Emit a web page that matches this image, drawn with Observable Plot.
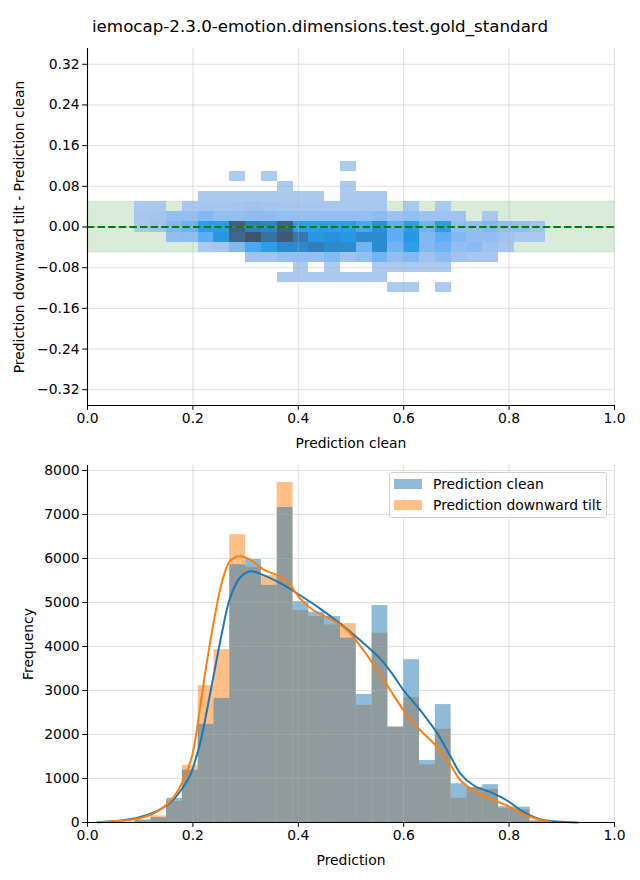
<!DOCTYPE html>
<html>
<head>
<meta charset="utf-8">
<script src="https://cdn.jsdelivr.net/npm/d3@7"></script>
<script src="https://cdn.jsdelivr.net/npm/@observablehq/plot@0.6"></script>
<style>
  body { margin: 0; background: #fff; font-family: "DejaVu Sans", sans-serif; }
  #fig { position: relative; width: 640px; height: 880px; overflow: hidden; background: #fff; }
  #title { position: absolute; top: 15px; left: 0; width: 640px; text-align: center; font-size: 16.7px; line-height: 22px; color: #000; }
  #p1 { position: absolute; top: 40px; left: 0; }
  #p2 { position: absolute; top: 455px; left: 0; }
  #legend { position: absolute; left: 389px; top: 472px; width: 216px; height: 44px; border: 1px solid #d0d0d0; border-radius: 3px; background: rgba(255,255,255,0.8); font-size: 13.9px; color: #000; }
  .lg-row { position: absolute; left: 4px; height: 14px; display: flex; align-items: center; white-space: nowrap; }
  .lg-sw { width: 28px; height: 10px; margin-right: 11px; }
</style>
</head>
<body>
<div id="fig">
  <div id="title">iemocap-2.3.0-emotion.dimensions.test.gold_standard</div>
  <div id="p1"></div>
  <div id="p2"></div>
  <div id="legend"></div>
</div>
<script>
// ---------------- data ----------------
const binEdges = [0.09, 0.12, 0.15, 0.18, 0.21, 0.24, 0.27, 0.30, 0.33, 0.36, 0.39, 0.42, 0.45,
  0.48, 0.51, 0.54, 0.57, 0.60, 0.63, 0.66, 0.69, 0.72, 0.75, 0.78, 0.81, 0.84, 0.87];
const diffEdges = [-0.1296, -0.1097, -0.0897, -0.0698, -0.0498, -0.0299, -0.0099, 0.0100,
  0.0300, 0.0499, 0.0699, 0.0898, 0.1098, 0.1297];
// counts per (difference bin, prediction bin); row 0 = lowest difference bin
const heatRows = [
  [0,0,0,0,0,0,0,0,0,0,0,0,0,0,0,0,10,10,0,10,0,0,0,0,0,0],
  [0,0,0,0,0,0,0,0,0,10,10,10,10,10,10,10,0,0,0,0,0,0,0,0,0,0],
  [0,0,0,0,0,0,0,0,0,0,10,0,10,0,0,10,10,10,10,10,0,0,0,0,0,0],
  [0,0,0,0,0,0,0,100,100,200,200,200,300,100,200,400,200,300,100,240,100,60,60,0,0,0],
  [0,0,0,0,20,60,300,600,800,1100,1100,1300,1100,1100,400,1100,400,800,300,400,200,260,140,60,0,0],
  [0,0,200,220,500,900,1700,2000,1500,1900,1400,900,1000,900,1100,1100,500,900,300,500,300,200,200,100,20,20],
  [30,100,300,420,800,820,1800,1300,1200,1800,800,800,800,800,600,1000,500,800,400,820,200,200,300,200,200,100],
  [60,80,200,200,300,200,200,220,220,200,180,200,200,200,180,250,120,200,120,120,100,0,30,0,0,0],
  [20,20,0,40,60,60,80,100,80,60,60,60,40,40,40,40,0,30,0,30,0,0,0,0,0,0],
  [0,0,0,0,10,10,10,10,10,10,10,10,0,10,10,10,0,0,0,0,0,0,0,0,0,0],
  [0,0,0,0,0,0,0,0,0,10,0,0,0,10,0,0,0,0,0,0,0,0,0,0,0,0],
  [0,0,0,0,0,0,10,0,10,0,0,0,0,0,0,0,0,0,0,0,0,0,0,0,0,0],
  [0,0,0,0,0,0,0,0,0,0,0,0,0,10,0,0,0,0,0,0,0,0,0,0,0,0]
];
const toleranceBand = [-0.05, 0.05];

const histClean = [60, 110, 550, 1190, 2230, 2820, 5860, 5980, 5390, 7160, 5020, 4780, 4680,
  4190, 2910, 4930, 2160, 3700, 1410, 2680, 880, 790, 860, 360, 350, 30];
const histTilt = [40, 150, 480, 1300, 3110, 3930, 6540, 5800, 5610, 7730, 4820, 4680, 4490,
  4520, 2660, 4300, 2180, 2840, 1310, 2120, 550, 800, 750, 320, 290, 50];

const kdeCleanX = [0.02, 0.063, 0.095, 0.127, 0.158, 0.177, 0.196, 0.208, 0.215, 0.240, 0.256, 0.271,
  0.290, 0.309, 0.328, 0.366, 0.404, 0.442, 0.480, 0.518, 0.556, 0.580, 0.600, 0.632, 0.664, 0.689,
  0.708, 0.733, 0.765, 0.796, 0.828, 0.860, 0.891, 0.93];
const kdeCleanY = [5, 45, 106, 235, 462, 727, 1106, 1560, 1864, 3380, 4364, 5121,
  5575, 5712, 5652, 5439, 5159, 4856, 4515, 4136, 3720, 3350, 3000, 2545, 2020, 1500,
  1106, 841, 689, 500, 235, 68, 23, 2];
const kdeTiltX = [0.019, 0.095, 0.127, 0.158, 0.177, 0.196, 0.202, 0.224, 0.240, 0.256, 0.271,
  0.290, 0.309, 0.335, 0.366, 0.385, 0.404, 0.429, 0.461, 0.493, 0.524, 0.556, 0.569, 0.600, 0.632,
  0.664, 0.689, 0.708, 0.733, 0.765, 0.796, 0.828, 0.860, 0.88];
const kdeTiltY = [5, 85, 212, 500, 841, 1409, 1712, 3455, 4590, 5500, 5955,
  6053, 5970, 5742, 5590, 5386, 5083, 4818, 4629, 4364, 3909, 3340, 3114, 2545, 2090,
  1712, 1300, 955, 720, 538, 386, 182, 60, 10];

const xTicks = [0, 0.2, 0.4, 0.6, 0.8, 1.0];
const diffTicks = [-0.32, -0.24, -0.16, -0.08, 0, 0.08, 0.16, 0.24, 0.32];
const freqTicks = [0, 1000, 2000, 3000, 4000, 5000, 6000, 7000, 8000];

const seriesNames = ["Prediction clean", "Prediction downward tilt"];
const seriesColors = ["#1f77b4", "#ff7f0e"];

// ---------------- seaborn-like single-hue colormap (HUSL ramp) ----------------
const HM = [[3.240969941904521, -1.537383177570093, -0.498610760293],
  [-0.96924363628087, 1.87596750150772, 0.041555057407175],
  [0.055630079696993, -0.20397695888897, 1.056971514242878]];
const HMinv = [[0.41239079926595, 0.35758433938387, 0.18048078840183],
  [0.21263900587151, 0.71516867876775, 0.072192315360733],
  [0.019330818715591, 0.11919477979462, 0.95053215224966]];
const refU = 0.19783000664283, refV = 0.46831999493879, kappa = 903.2962962, epsilon = 0.0088564516;
function bounds(L) {
  const out = [];
  const sub1 = Math.pow(L + 16, 3) / 1560896;
  const sub2 = sub1 > epsilon ? sub1 : L / kappa;
  for (const [m1, m2, m3] of HM) {
    for (const t of [0, 1]) {
      const top1 = (284517 * m1 - 94839 * m3) * sub2;
      const top2 = (838422 * m3 + 769860 * m2 + 731718 * m1) * L * sub2 - 769860 * t * L;
      const bottom = (632260 * m3 - 126452 * m2) * sub2 + 126452 * t;
      out.push([top1 / bottom, top2 / bottom]);
    }
  }
  return out;
}
function maxChroma(L, H) {
  const hr = H / 180 * Math.PI;
  let min = Infinity;
  for (const [m, b] of bounds(L)) {
    const len = b / (Math.sin(hr) - m * Math.cos(hr));
    if (len >= 0 && len < min) min = len;
  }
  return min;
}
function hsluvToRgb(H, S, L) {
  const C = maxChroma(L, H) / 100 * S;
  const hr = H / 180 * Math.PI;
  const U = Math.cos(hr) * C, V = Math.sin(hr) * C;
  const vu = U / (13 * L) + refU, vv = V / (13 * L) + refV;
  const Y = L <= 8 ? L / kappa : Math.pow((L + 16) / 116, 3);
  const X = -(9 * Y * vu) / ((vu - 4) * vv - vu * vv);
  const Z = (9 * Y - 15 * vv * Y - vv * X) / (3 * vv);
  return HM.map(([a, b, c]) => {
    const v = a * X + b * Y + c * Z;
    const g = v <= 0.0031308 ? 12.92 * v : 1.055 * Math.pow(v, 1 / 2.4) - 0.055;
    return Math.max(0, Math.min(1, g));
  });
}
function rgbToHsluv(r, g, b) {
  const lin = c => c > 0.04045 ? Math.pow((c + 0.055) / 1.055, 2.4) : c / 12.92;
  const rl = [r, g, b].map(lin);
  const [X, Y, Z] = HMinv.map(([a, b2, c]) => a * rl[0] + b2 * rl[1] + c * rl[2]);
  const L = Y <= epsilon ? Y * kappa : 116 * Math.cbrt(Y) - 16;
  const d = X + 15 * Y + 3 * Z;
  const U = 13 * L * (4 * X / d - refU), V = 13 * L * (9 * Y / d - refV);
  const C = Math.hypot(U, V);
  let H = Math.atan2(V, U) * 180 / Math.PI; if (H < 0) H += 360;
  return [H, C / maxChroma(L, H) * 100, L];
}
const base = d3.rgb(seriesColors[0]);
const [baseH, baseS] = rgbToHsluv(base.r / 255, base.g / 255, base.b / 255);
function ramp(t) {
  const k = 255 * (1 - t);
  const xx = -1 + 2 * k / 293;
  const L = 35 + 45 * k / 255;
  const [r, g, b] = hsluvToRgb(baseH, baseS * Math.cos(xx), L);
  return `rgb(${Math.round(r * 255)},${Math.round(g * 255)},${Math.round(b * 255)})`;
}

// ---------------- tables ----------------
const heatCells = [];
heatRows.forEach((row, j) => row.forEach((c, i) => {
  if (c > 0) heatCells.push({x1: binEdges[i], x2: binEdges[i + 1], y1: diffEdges[j], y2: diffEdges[j + 1], count: c});
}));
const counts = heatCells.map(d => d.count);
const histTable = histClean.map((c, i) => ({x1: binEdges[i], x2: binEdges[i + 1], clean: c, tilt: histTilt[i]}));
const kdeClean = kdeCleanX.map((x, i) => ({x, y: kdeCleanY[i]}));
const kdeTilt = kdeTiltX.map((x, i) => ({x, y: kdeTiltY[i]}));

const font = {fontFamily: "DejaVu Sans", fontSize: "13.9px", background: "white", color: "black", overflow: "visible"};
const gridStyle = {stroke: "#b0b0b0", strokeOpacity: 0.5, strokeWidth: 0.8};

// ---------------- top: 2D histogram ----------------
const p1 = Plot.plot({
  width: 640, height: 415,
  marginLeft: 87, marginRight: 26, marginTop: 8, marginBottom: 50,
  style: font,
  x: {domain: [0, 1]},
  y: {domain: [-0.351, 0.351]},
  color: {type: "linear", domain: [d3.min(counts), d3.max(counts)], interpolate: ramp},
  marks: [
    Plot.rect([toleranceBand], {y1: d => d[0], y2: d => d[1], fill: "green", fillOpacity: 0.15, stroke: "green", strokeOpacity: 0.12, strokeWidth: 1}),
    Plot.rect(heatCells, {x1: "x1", x2: "x2", y1: "y1", y2: "y2", fill: "count", inset: 0, shapeRendering: "crispEdges"}),
    Plot.gridX(xTicks, gridStyle),
    Plot.gridY(diffTicks, gridStyle),
    Plot.ruleY([0], {stroke: "green", strokeWidth: 2, strokeDasharray: "7.4,3.2"}),
    Plot.ruleX([0], {stroke: "black", strokeWidth: 1.1}),
    Plot.ruleY([-0.351], {stroke: "black", strokeWidth: 1.1}),
    Plot.axisX(xTicks, {tickFormat: d3.format(".1f"), tickSize: 4.9, tickPadding: 3, label: "Prediction clean", labelAnchor: "center", labelArrow: "none", labelOffset: 42}),
    Plot.axisY(diffTicks, {tickFormat: d3.format(".2f"), tickSize: 4.9, tickPadding: 3, label: "Prediction downward tilt - Prediction clean", labelAnchor: "center", labelArrow: "none", labelOffset: 73})
  ]
});
document.getElementById("p1").appendChild(p1);

// ---------------- bottom: histograms + KDE ----------------
const p2 = Plot.plot({
  width: 640, height: 425,
  marginLeft: 87, marginRight: 26, marginTop: 10, marginBottom: 58,
  style: font,
  x: {domain: [0, 1]},
  y: {domain: [0, 8114]},
  marks: [
    Plot.rectY(histTable, {x1: "x1", x2: "x2", y: "tilt", fill: seriesColors[1], fillOpacity: 0.5, inset: 0}),
    Plot.rectY(histTable, {x1: "x1", x2: "x2", y: "clean", fill: seriesColors[0], fillOpacity: 0.5, inset: 0}),
    Plot.gridX(xTicks, gridStyle),
    Plot.gridY(freqTicks, gridStyle),
    Plot.line(kdeClean, {x: "x", y: "y", stroke: seriesColors[0], strokeWidth: 2, curve: "catmull-rom"}),
    Plot.line(kdeTilt, {x: "x", y: "y", stroke: seriesColors[1], strokeWidth: 2, curve: "catmull-rom"}),
    Plot.ruleX([0], {stroke: "black", strokeWidth: 1.1}),
    Plot.ruleY([0], {stroke: "black", strokeWidth: 1.1}),
    Plot.axisX(xTicks, {tickFormat: d3.format(".1f"), tickSize: 4.9, tickPadding: 3, label: "Prediction", labelAnchor: "center", labelArrow: "none", labelOffset: 42}),
    Plot.axisY(freqTicks, {tickFormat: d3.format("d"), tickSize: 4.9, tickPadding: 3, label: "Frequency", labelAnchor: "center", labelArrow: "none", labelOffset: 64})
  ]
});
document.getElementById("p2").appendChild(p2);

// ---------------- legend ----------------
const legend = document.getElementById("legend");
seriesNames.forEach((name, i) => {
  const row = document.createElement("div");
  row.className = "lg-row";
  row.style.top = (i === 0 ? 4 : 25) + "px";
  const sw = document.createElement("div");
  sw.className = "lg-sw";
  const c = d3.rgb(seriesColors[i]);
  sw.style.background = `rgba(${c.r},${c.g},${c.b},0.5)`;
  const tx = document.createElement("span");
  tx.textContent = name;
  row.appendChild(sw); row.appendChild(tx);
  legend.appendChild(row);
});
</script>
</body>
</html>
